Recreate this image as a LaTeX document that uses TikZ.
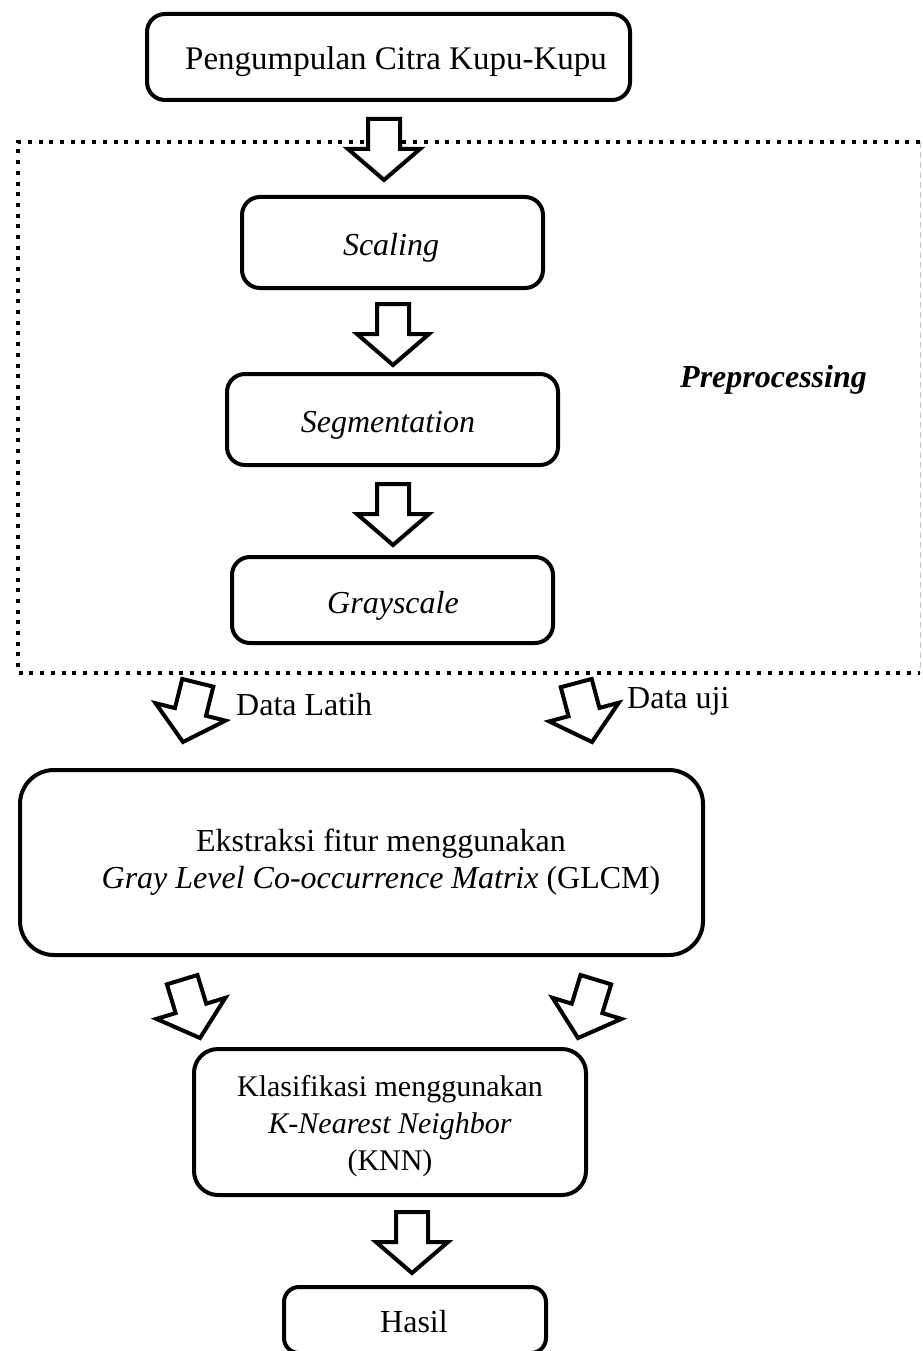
\documentclass[tikz,border=0pt]{standalone}
\usepackage{fontspec}
\setmainfont{Liberation Serif}
\begin{document}
\begin{tikzpicture}[x=1pt,y=-1pt,
  txt/.style={font=\fontsize{32}{37}\selectfont, align=center, inner sep=0pt},
  box/.style={draw, line width=4pt, rounded corners=18pt, inner sep=0pt},
  dotline/.style={line width=4pt, dash pattern=on 4pt off 6.7pt},
  blockarrow/.pic={\draw[line width=4pt, fill=white, line join=miter, miter limit=10]
     (0,0) -- (-36,-31) -- (-16,-31) -- (-16,-61) -- (16,-61) -- (16,-31) -- (36,-31) -- cycle;}
]
\useasboundingbox (0,0) rectangle (922,1351);

% preprocessing frame
\coordinate (fTL) at (18,142);
\coordinate (fTR) at (920,142);
\coordinate (fBL) at (18,673);
\coordinate (fBR) at (920,673);
\draw[dotline] (fTR) -- (fTL) -- (fBL) -- (fBR);
\draw[gray!45, line width=1pt, dash pattern=on 6pt off 4pt] (fTR) -- (fBR);

% boxes
\node[box, minimum width=483pt, minimum height=86pt] (collect) at (388.5,57) {};
\node[box, minimum width=301pt, minimum height=91pt] (scaling) at (392.5,242.5) {};
\node[box, minimum width=331pt, minimum height=91pt] (segment) at (392.5,419.5) {};
\node[box, minimum width=321pt, minimum height=86pt] (gray) at (392.5,600) {};
\node[box, rounded corners=34pt, minimum width=683pt, minimum height=185pt] (glcm) at (361.5,862.5) {};
\node[box, rounded corners=24pt, minimum width=392pt, minimum height=146pt] (knn) at (390,1122) {};
\node[box, rounded corners=15pt, minimum width=262pt, minimum height=66pt] (hasil) at (415,1320) {};

% texts in boxes
\node[txt, font=\fontsize{33}{37}\selectfont, anchor=base] (collecttxt) at (396,70) {Pengumpulan Citra Kupu-Kupu};
\node[txt, anchor=base] (scalingtxt) at (391,255) {\textit{Scaling}};
\node[txt, anchor=base] (segmenttxt) at (388,432) {\textit{Segmentation}};
\node[txt, anchor=base] (graytxt) at (393,613) {\textit{Grayscale}};
\node[txt] (glcmtxt) at (381,862) {Ekstraksi fitur menggunakan\\\textit{Gray Level Co-occurrence Matrix} (GLCM)};
\node[txt, font=\fontsize{30}{37}\selectfont] (knntxt) at (390,1126) {Klasifikasi menggunakan\\\textit{K-Nearest Neighbor}\\(KNN)};
\node[txt, anchor=base] (hasiltxt) at (414,1332) {Hasil};

% labels
\node[txt, anchor=west] (prep) at (680,380) {\textbf{\textit{Preprocessing}}};
\node[txt, anchor=west] (latih) at (236,705) {Data Latih};
\node[txt, anchor=west] (uji) at (627,701) {Data uji};

% block arrows
\pic (arr1) at (384,180) {blockarrow};
\pic (arr2) at (393,365) {blockarrow};
\pic (arr3) at (393,545) {blockarrow};
\pic[rotate=-14] (arrL) at (183,742) {blockarrow};
\pic[rotate=15] (arrU) at (592,742) {blockarrow};
\pic[rotate=17] (arrBL) at (200,1038) {blockarrow};
\pic[rotate=-17] (arrBR) at (578,1038) {blockarrow};
\pic (arr4) at (412,1273) {blockarrow};
\end{tikzpicture}
\end{document}
